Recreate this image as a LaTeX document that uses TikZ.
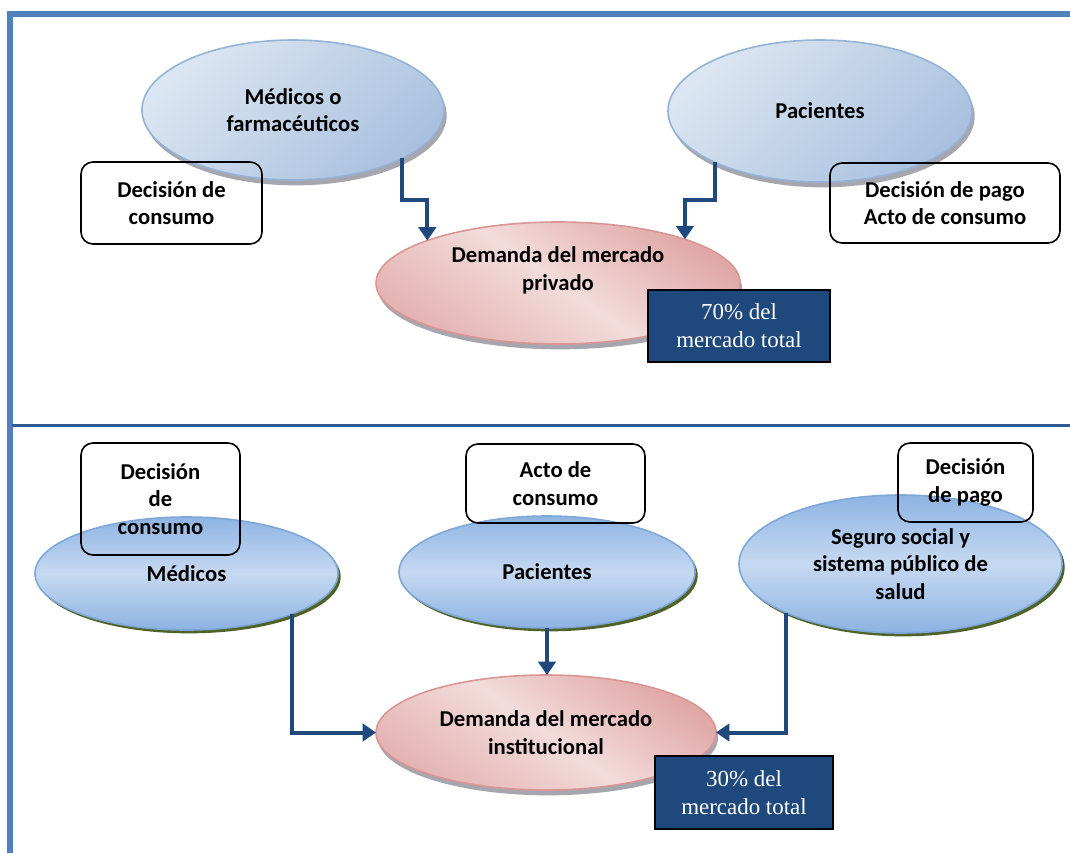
\documentclass[tikz,border=0pt]{standalone}
\usepackage{fontspec}
\setmainfont{Carlito}
\newfontfamily\tnr{Liberation Serif}
\usetikzlibrary{shapes.geometric,arrows.meta,shadows}
\definecolor{frameblue}{HTML}{4F81BD}
\definecolor{midline}{HTML}{2C5A94}
\definecolor{navy}{HTML}{1F497D}
\definecolor{ltA}{HTML}{DCE6F2}
\definecolor{ltB}{HTML}{A9C1DF}
\definecolor{ltborder}{HTML}{95B3D7}
\definecolor{bbTop}{HTML}{8EB4E3}
\definecolor{bbMid}{HTML}{C6D9F1}
\definecolor{bbBot}{HTML}{8DB3E2}
\definecolor{bbborder}{HTML}{7FA7D8}
\definecolor{olive}{HTML}{4F6228}
\definecolor{pkA}{HTML}{E0A7A6}
\definecolor{pkB}{HTML}{F2DCDB}
\definecolor{pkC}{HTML}{E4B4B3}
\definecolor{pkborder}{HTML}{D99694}
\definecolor{hatch}{HTML}{A6A6AE}
\tikzset{
  lbl/.style={font=\bfseries\fontsize{17}{20.5}\selectfont, align=center, text=black},
  ellbase/.style={ellipse, inner sep=0pt, outer sep=0pt, lbl},
  topell/.style={ellbase, draw=ltborder, line width=1.2pt,
    top color=ltA, bottom color=ltB, shading angle=45,
    drop shadow={shadow xshift=2pt, shadow yshift=-4pt, fill=hatch, opacity=1}},
  botell/.style={ellbase, draw=bbborder, line width=1.2pt,
    top color=bbTop, bottom color=bbBot, middle color=bbMid,
    drop shadow={shadow xshift=2pt, shadow yshift=-2.5pt, fill=olive, opacity=1}},
  pinkell/.style={ellbase, draw=pkborder, line width=1.2pt,
    top color=pkA, bottom color=pkC, middle color=pkB, shading angle=-35,
    drop shadow={shadow xshift=1.5pt, shadow yshift=-4pt, fill=hatch, opacity=1}},
  rbox/.style={rectangle, rounded corners=9pt, draw=black, line width=1.2pt,
    inner sep=2pt, lbl},
  pctbox/.style={rectangle, draw=black, line width=1.3pt, fill=navy, text=white,
    inner sep=2pt, align=center, font=\tnr\fontsize{17.2}{21}\selectfont},
  arr/.style={draw=navy, line width=3pt, -{Triangle[width=13pt,length=10pt]}},
}
\begin{document}
\begin{tikzpicture}[x=0.75pt,y=-0.75pt]
\useasboundingbox[fill=white] (0,0) rectangle (1070,853);

% frame
\draw[frameblue, line width=4.5pt] (7,14) -- (1070,14);
\draw[frameblue, line width=4.5pt] (10,11.5) -- (10,853);
\draw[midline, line width=2.2pt] (12,425.5) -- (1070,425.5);

% ---------- top section ----------
\node[topell, minimum width=226.5pt, minimum height=105pt] (med1) at (293,110) {M\'edicos o\\farmac\'euticos};
\node[topell, minimum width=228pt, minimum height=106.5pt] (pac1) at (820,111) {Pacientes};
\node[pinkell, minimum width=273pt, minimum height=91.5pt,
  label={[lbl, yshift=9.5pt]center:Demanda del mercado\\privado}] (dem1) at (558,283) {};

\node[rbox, minimum width=135.75pt, minimum height=61.5pt] (dc1) at (171.5,203) {Decisi\'on de\\consumo};
\node[rbox, minimum width=172.5pt, minimum height=60pt] (dp1) at (945,203) {Decisi\'on de pago\\Acto de consumo};

\draw[arr] (med1.-24) -- ++(0,41.5) -| (dem1.162);
\draw[arr] (pac1.-154) -- ++(0,38) -| (dem1.19);

\node[pctbox, minimum width=136.5pt, minimum height=54pt] (pct1) at (739,326) {70\% del\\mercado total};

% ---------- bottom section ----------
\node[botell, minimum width=227.25pt, minimum height=84.75pt] (med2) at (186.5,573.5) {M\'edicos};
\node[botell, minimum width=222pt, minimum height=84pt] (pac2) at (547,572) {Pacientes};
\node[botell, minimum width=242.25pt, minimum height=103.5pt] (seg2) at (900.5,564) {Seguro social y\\sistema p\'ublico de\\salud};
\node[pinkell, minimum width=255pt, minimum height=86.25pt] (dem2) at (546,732.5) {Demanda del mercado\\institucional};

\node[rbox, minimum width=119.25pt, minimum height=84pt] (dc2) at (160.5,499) {Decisi\'on\\de\\consumo};
\node[rbox, minimum width=134.25pt, minimum height=59.25pt] (ac2) at (555.5,483.5) {Acto de\\consumo};
\node[rbox, minimum width=101.25pt, minimum height=59.25pt] (dp2) at (965.5,482.5) {Decisi\'on\\de pago};

\draw[arr] (med2.-21) |- (dem2.west);
\draw[arr] (pac2.south) -- (pac2.south |- dem2.north);
\draw[arr] (seg2.-157.7) |- (dem2.east);

\node[pctbox, minimum width=133.5pt, minimum height=54.75pt] (pct2) at (744,792.5) {30\% del\\mercado total};
\end{tikzpicture}
\end{document}
